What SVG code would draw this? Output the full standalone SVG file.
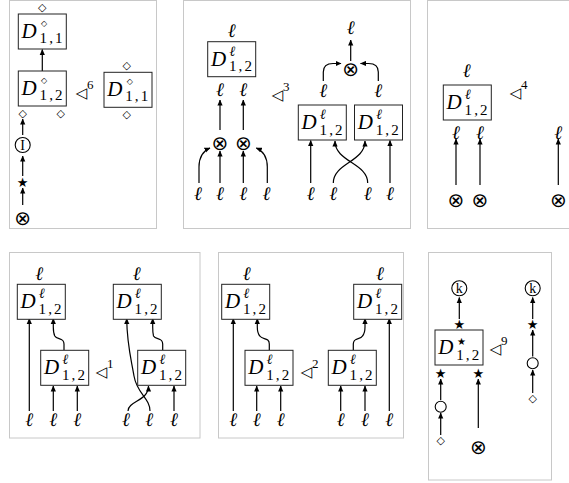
<svg xmlns="http://www.w3.org/2000/svg" width="569" height="483" viewBox="0 0 569 483">
<style>
.panel{fill:#fff;stroke:#c8c8c8;stroke-width:1}
.box{fill:#fff;stroke:#222;stroke-width:1}
.edge{fill:none;stroke:#000;stroke-width:1.2;marker-end:url(#ah)}
.circ{fill:#fff;stroke:#000;stroke-width:1.1}
.D{font-family:"Liberation Serif",serif;font-style:italic;font-size:21px;fill:#000}
.sub{font-style:normal;font-size:15px}
.sup{font-family:"DejaVu Serif",serif;font-style:italic;font-size:14px}
.supd{font-family:"DejaVu Sans",sans-serif;font-style:normal;font-size:8px}
.supst{font-family:"DejaVu Sans",sans-serif;font-style:normal;font-size:10px}
.ell{font-family:"DejaVu Serif",serif;font-style:italic;font-size:19px;text-anchor:middle;fill:#000}
.sym{font-family:"DejaVu Sans",sans-serif;text-anchor:middle;dominant-baseline:central;fill:#000}
.otimes{font-size:20px}
.star{font-size:13px}
.dia{font-size:11px}
.tri{font-family:"DejaVu Sans",sans-serif;font-size:15px;fill:#000}
.num{font-family:"Liberation Serif",serif;font-size:13px;fill:#000}
.lab{font-family:"Liberation Serif",serif;font-size:14px;text-anchor:middle;dominant-baseline:central;fill:#000}
</style>
<defs>
<marker id="ah" viewBox="0 0 6 6" refX="5.5" refY="3" markerWidth="6" markerHeight="6" markerUnits="userSpaceOnUse" orient="auto">
<path d="M0,0.4 L6,3 L0,5.6 z" fill="#000"/>
</marker>
</defs>

<g id="panels">
<rect class="panel" x="9.5" y="0.5" width="147" height="228"/>
<rect class="panel" x="183.5" y="0.5" width="227" height="228"/>
<rect class="panel" x="427.5" y="0.5" width="150" height="228"/>
<rect class="panel" x="9.5" y="252.5" width="190.5" height="185.5"/>
<rect class="panel" x="218.5" y="252.5" width="185" height="185.5"/>
<rect class="panel" x="428.5" y="252.5" width="123" height="227.5"/>
</g>

<g id="connectors">
<!-- panel 1 -->
<path class="edge" d="M42.3,71 L42.3,49.5"/>
<path class="edge" d="M22.7,135 L22.7,119"/>
<path class="edge" d="M22.7,176 L22.7,156"/>
<path class="edge" d="M22.7,205 L22.7,188"/>
<!-- panel 2 left -->
<path class="edge" d="M220,130 L220,100"/>
<path class="edge" d="M243.3,130 L243.3,100"/>
<path class="edge" d="M220,183 L220,151"/>
<path class="edge" d="M243.3,183 L243.3,151"/>
<path class="edge" d="M199,183 L199,167 C199,157 203,151 210,148"/>
<path class="edge" d="M267.3,183 L267.3,167 C267.3,157 263.3,151 256.3,148"/>
<!-- panel 2 right -->
<path class="edge" d="M350.7,61 L350.7,40"/>
<path class="edge" d="M323.3,81 L323.3,72 C323.3,66 327,63.5 333,63.5 L341,63.5"/>
<path class="edge" d="M378.3,81 L378.3,72 C378.3,66 374.6,63.5 368.6,63.5 L360.5,63.5"/>
<path class="edge" d="M310.7,183 L310.7,140.5"/>
<path class="edge" d="M390,183 L390,140.5"/>
<path class="edge" d="M333.3,183 C333.3,163 365,162 365,141"/>
<path class="edge" d="M367.7,183 C367.7,163 335,162 335,141"/>
<!-- panel 3 -->
<path class="edge" d="M456,185 L456,139"/>
<path class="edge" d="M480,185 L480,139"/>
<path class="edge" d="M558.3,185 L558.3,139"/>
<!-- panel 4 -->
<path class="edge" d="M29.3,411 L29.3,318.5"/>
<path class="edge" d="M64,350 L64,344 C64,337 57,340 54.8,336 C53.3,333 53.3,331 53.3,327 L53.3,318.5"/>
<path class="edge" d="M53.3,411 L53.3,386"/>
<path class="edge" d="M77.3,411 L77.3,386"/>
<path class="edge" d="M150,411 C150,398 137,394 134,376 C131,358 127,345 126.7,318.5"/>
<path class="edge" d="M128,411 C128,401 148.5,401 148.5,386"/>
<path class="edge" d="M162.7,350 L162.7,344 C162.7,337 155.7,340 153.5,336 C152.7,333 152.7,331 152.7,327 L152.7,318.5"/>
<path class="edge" d="M174,411 L174,386"/>
<!-- panel 5 -->
<path class="edge" d="M233.3,411 L233.3,318.5"/>
<path class="edge" d="M269.3,350 L269.3,344 C269.3,337 262.3,340 259.8,336 C257.3,333 257.3,331 257.3,327 L257.3,318.5"/>
<path class="edge" d="M256.7,411 L256.7,386"/>
<path class="edge" d="M280.7,411 L280.7,386"/>
<path class="edge" d="M340.7,411 L340.7,386"/>
<path class="edge" d="M365,411 L365,386"/>
<path class="edge" d="M389.3,411 L389.3,318.5"/>
<path class="edge" d="M353.3,350 L353.3,344 C353.3,337 360.3,340 362.5,336 C365,333 365,331 365,327 L365,318.5"/>
<!-- panel 6 -->
<path class="edge" d="M459.3,319 L459.3,297.5"/>
<path class="edge" d="M440.7,400 L440.7,379"/>
<path class="edge" d="M440.7,435 L440.7,413"/>
<path class="edge" d="M478.3,428 L478.3,379"/>
<path class="edge" d="M532.7,319 L532.7,297.5"/>
<path class="edge" d="M532.7,356.5 L532.7,330"/>
<path class="edge" d="M532.7,393 L532.7,370"/>
</g>

<!-- ===== Panel 1 ===== -->
<g id="p1-d-top"><text class="sym dia" x="42.3" y="7.5">◇</text></g>
<g id="p1-box1">
<rect class="box" x="18.3" y="14" width="48" height="35"/>
<text class="D"><tspan x="21.5" y="38">D</tspan><tspan class="supd" x="41" y="26">◇</tspan><tspan class="sub" x="39.5" y="43" textLength="23" lengthAdjust="spacing">1,1</tspan></text>
</g>
<g id="p1-box2">
<rect class="box" x="18.3" y="71" width="48" height="35"/>
<text class="D"><tspan x="21.5" y="95">D</tspan><tspan class="supd" x="41" y="83">◇</tspan><tspan class="sub" x="39.5" y="100" textLength="23" lengthAdjust="spacing">1,2</tspan></text>
</g>
<g id="p1-rel"><text class="tri" x="75.5" y="98">◁</text><text class="num" x="87" y="89">6</text></g>
<g id="p1-box3">
<rect class="box" x="104" y="72.3" width="48" height="35"/>
<text class="D"><tspan x="107.2" y="96.3">D</tspan><tspan class="supd" x="126.7" y="84.3">◇</tspan><tspan class="sub" x="125.2" y="101.3" textLength="23" lengthAdjust="spacing">1,1</tspan></text>
</g>
<g id="p1-d3a"><text class="sym dia" x="126.7" y="65">◇</text></g>
<g id="p1-d3b"><text class="sym dia" x="126.7" y="114">◇</text></g>
<g id="p1-d2a"><text class="sym dia" x="22.7" y="113.3">◇</text></g>
<g id="p1-d2b"><text class="sym dia" x="60.7" y="113.3">◇</text></g>
<g id="p1-I"><circle class="circ" cx="22.7" cy="145" r="7.5"/><text class="lab" x="22.7" y="145.5">I</text></g>
<g id="p1-star"><text class="sym star" x="22.7" y="182.7">★</text></g>
<g id="p1-otimes"><text class="sym otimes" x="22.7" y="218.3">⊗</text></g>

<!-- ===== Panel 2 ===== -->
<g id="p2-l-top"><text class="ell" x="231.7" y="37">ℓ</text></g>
<g id="p2-box">
<rect class="box" x="207.7" y="41.7" width="48" height="35"/>
<text class="D"><tspan x="210.9" y="65.7">D</tspan><tspan class="sup" x="229.5" y="55.5">ℓ</tspan><tspan class="sub" x="228.9" y="71.2" textLength="23" lengthAdjust="spacing">1,2</tspan></text>
</g>
<g id="p2-l1"><text class="ell" x="220" y="96">ℓ</text></g>
<g id="p2-l2"><text class="ell" x="243.3" y="96">ℓ</text></g>
<g id="p2-o1"><text class="sym otimes" x="220" y="143.3">⊗</text></g>
<g id="p2-o2"><text class="sym otimes" x="243.3" y="143.3">⊗</text></g>
<g id="p2-b1"><text class="ell" x="198" y="200">ℓ</text></g>
<g id="p2-b2"><text class="ell" x="220" y="200">ℓ</text></g>
<g id="p2-b3"><text class="ell" x="243.3" y="200">ℓ</text></g>
<g id="p2-b4"><text class="ell" x="266.5" y="200">ℓ</text></g>
<g id="p2-rel"><text class="tri" x="271.5" y="100">◁</text><text class="num" x="283" y="91">3</text></g>
<g id="p2-r-top"><text class="ell" x="350.7" y="34">ℓ</text></g>
<g id="p2-r-o"><text class="sym otimes" x="350.7" y="69.3">⊗</text></g>
<g id="p2-r-l1"><text class="ell" x="323.3" y="97">ℓ</text></g>
<g id="p2-r-l2"><text class="ell" x="378.3" y="97">ℓ</text></g>
<g id="p2-box-a">
<rect class="box" x="298.3" y="105" width="48" height="35"/>
<text class="D"><tspan x="301.5" y="129">D</tspan><tspan class="sup" x="320.1" y="118.8">ℓ</tspan><tspan class="sub" x="319.5" y="134.5" textLength="23" lengthAdjust="spacing">1,2</tspan></text>
</g>
<g id="p2-box-b">
<rect class="box" x="354.5" y="105" width="48" height="35"/>
<text class="D"><tspan x="357.7" y="129">D</tspan><tspan class="sup" x="376.3" y="118.8">ℓ</tspan><tspan class="sub" x="375.7" y="134.5" textLength="23" lengthAdjust="spacing">1,2</tspan></text>
</g>
<g id="p2-rb1"><text class="ell" x="310.7" y="200">ℓ</text></g>
<g id="p2-rb2"><text class="ell" x="333.3" y="200">ℓ</text></g>
<g id="p2-rb3"><text class="ell" x="367.7" y="200">ℓ</text></g>
<g id="p2-rb4"><text class="ell" x="390" y="200">ℓ</text></g>

<!-- ===== Panel 3 ===== -->
<g id="p3-top"><text class="ell" x="466.7" y="77">ℓ</text></g>
<g id="p3-box">
<rect class="box" x="443.3" y="85" width="48" height="35"/>
<text class="D"><tspan x="446.5" y="109">D</tspan><tspan class="sup" x="465.1" y="98.8">ℓ</tspan><tspan class="sub" x="464.5" y="114.5" textLength="23" lengthAdjust="spacing">1,2</tspan></text>
</g>
<g id="p3-rel"><text class="tri" x="509.5" y="98">◁</text><text class="num" x="521" y="89">4</text></g>
<g id="p3-l1"><text class="ell" x="456" y="138.5">ℓ</text></g>
<g id="p3-l2"><text class="ell" x="480" y="138.5">ℓ</text></g>
<g id="p3-l3"><text class="ell" x="558.3" y="138.5">ℓ</text></g>
<g id="p3-o1"><text class="sym otimes" x="456" y="200">⊗</text></g>
<g id="p3-o2"><text class="sym otimes" x="480" y="200">⊗</text></g>
<g id="p3-o3"><text class="sym otimes" x="558.3" y="200">⊗</text></g>

<!-- ===== Panel 4 ===== -->
<g id="p4-top-l"><text class="ell" x="39.3" y="279.5">ℓ</text></g>
<g id="p4-box-tl">
<rect class="box" x="17.3" y="284.3" width="48" height="35"/>
<text class="D"><tspan x="20.5" y="308.3">D</tspan><tspan class="sup" x="39.1" y="298.1">ℓ</tspan><tspan class="sub" x="38.5" y="313.8" textLength="23" lengthAdjust="spacing">1,2</tspan></text>
</g>
<g id="p4-box-bl">
<rect class="box" x="40.7" y="350.3" width="48" height="35"/>
<text class="D"><tspan x="43.9" y="374.3">D</tspan><tspan class="sup" x="62.5" y="364.1">ℓ</tspan><tspan class="sub" x="61.9" y="379.8" textLength="23" lengthAdjust="spacing">1,2</tspan></text>
</g>
<g id="p4-rel"><text class="tri" x="95.5" y="377">◁</text><text class="num" x="107" y="368">1</text></g>
<g id="p4-top-r"><text class="ell" x="136.7" y="279.5">ℓ</text></g>
<g id="p4-box-tr">
<rect class="box" x="113.3" y="284.3" width="48" height="35"/>
<text class="D"><tspan x="116.5" y="308.3">D</tspan><tspan class="sup" x="135.1" y="298.1">ℓ</tspan><tspan class="sub" x="134.5" y="313.8" textLength="23" lengthAdjust="spacing">1,2</tspan></text>
</g>
<g id="p4-box-br">
<rect class="box" x="137.7" y="350.3" width="48" height="35"/>
<text class="D"><tspan x="140.9" y="374.3">D</tspan><tspan class="sup" x="159.5" y="364.1">ℓ</tspan><tspan class="sub" x="158.9" y="379.8" textLength="23" lengthAdjust="spacing">1,2</tspan></text>
</g>
<g id="p4-b1"><text class="ell" x="29.3" y="426">ℓ</text></g>
<g id="p4-b2"><text class="ell" x="53.3" y="426">ℓ</text></g>
<g id="p4-b3"><text class="ell" x="77.3" y="426">ℓ</text></g>
<g id="p4-b4"><text class="ell" x="126" y="426">ℓ</text></g>
<g id="p4-b5"><text class="ell" x="149.3" y="426">ℓ</text></g>
<g id="p4-b6"><text class="ell" x="174" y="426">ℓ</text></g>

<!-- ===== Panel 5 ===== -->
<g id="p5-top-l"><text class="ell" x="246.7" y="279.5">ℓ</text></g>
<g id="p5-box-tl">
<rect class="box" x="221.7" y="284.3" width="48" height="35"/>
<text class="D"><tspan x="224.9" y="308.3">D</tspan><tspan class="sup" x="243.5" y="298.1">ℓ</tspan><tspan class="sub" x="242.9" y="313.8" textLength="23" lengthAdjust="spacing">1,2</tspan></text>
</g>
<g id="p5-box-bl">
<rect class="box" x="245" y="350.3" width="48" height="35"/>
<text class="D"><tspan x="248.2" y="374.3">D</tspan><tspan class="sup" x="266.8" y="364.1">ℓ</tspan><tspan class="sub" x="266.2" y="379.8" textLength="23" lengthAdjust="spacing">1,2</tspan></text>
</g>
<g id="p5-rel"><text class="tri" x="300.5" y="377">◁</text><text class="num" x="312" y="368">2</text></g>
<g id="p5-box-br">
<rect class="box" x="328.3" y="350.3" width="48" height="35"/>
<text class="D"><tspan x="331.5" y="374.3">D</tspan><tspan class="sup" x="350.1" y="364.1">ℓ</tspan><tspan class="sub" x="349.5" y="379.8" textLength="23" lengthAdjust="spacing">1,2</tspan></text>
</g>
<g id="p5-top-r"><text class="ell" x="380" y="279.5">ℓ</text></g>
<g id="p5-box-tr">
<rect class="box" x="353.7" y="284.3" width="48" height="35"/>
<text class="D"><tspan x="356.9" y="308.3">D</tspan><tspan class="sup" x="375.5" y="298.1">ℓ</tspan><tspan class="sub" x="374.9" y="313.8" textLength="23" lengthAdjust="spacing">1,2</tspan></text>
</g>
<g id="p5-b1"><text class="ell" x="233.3" y="426">ℓ</text></g>
<g id="p5-b2"><text class="ell" x="256.7" y="426">ℓ</text></g>
<g id="p5-b3"><text class="ell" x="280.7" y="426">ℓ</text></g>
<g id="p5-b4"><text class="ell" x="340.7" y="426">ℓ</text></g>
<g id="p5-b5"><text class="ell" x="365" y="426">ℓ</text></g>
<g id="p5-b6"><text class="ell" x="389.3" y="426">ℓ</text></g>

<!-- ===== Panel 6 ===== -->
<g id="p6-k1"><circle class="circ" cx="459.3" cy="288.3" r="7.5"/><text class="lab" x="459.3" y="288.8">k</text></g>
<g id="p6-s1"><text class="sym star" x="459.3" y="324.3">★</text></g>
<g id="p6-box">
<rect class="box" x="435" y="330" width="48" height="35"/>
<text class="D"><tspan x="438.2" y="354">D</tspan><tspan class="supst" x="457" y="344.5">★</tspan><tspan class="sub" x="456.2" y="359.5" textLength="23" lengthAdjust="spacing">1,2</tspan></text>
</g>
<g id="p6-rel"><text class="tri" x="489.5" y="354">◁</text><text class="num" x="501" y="345">9</text></g>
<g id="p6-s2"><text class="sym star" x="440.7" y="373.3">★</text></g>
<g id="p6-s3"><text class="sym star" x="478.3" y="373.3">★</text></g>
<g id="p6-c1"><circle class="circ" cx="440.7" cy="406.7" r="5.5"/></g>
<g id="p6-d1"><text class="sym dia" x="440.7" y="440">◇</text></g>
<g id="p6-o1"><text class="sym otimes" x="478.3" y="446.7">⊗</text></g>
<g id="p6-k2"><circle class="circ" cx="532.7" cy="288.3" r="7.5"/><text class="lab" x="532.7" y="288.8">k</text></g>
<g id="p6-s4"><text class="sym star" x="532.7" y="324.3">★</text></g>
<g id="p6-c2"><circle class="circ" cx="532.7" cy="363.3" r="5.5"/></g>
<g id="p6-d2"><text class="sym dia" x="532.7" y="398.3">◇</text></g>
</svg>
